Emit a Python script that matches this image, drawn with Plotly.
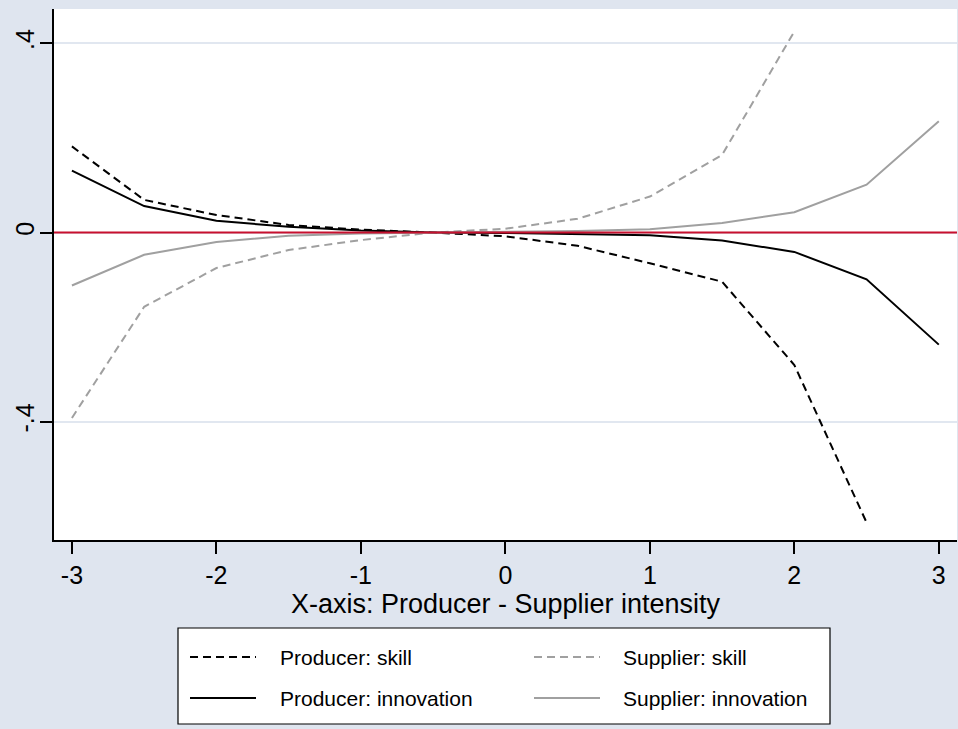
import plotly.graph_objects as go

# ---------------- data ----------------
x_vals = [-3, -2.5, -2, -1.5, -1, -0.5, 0, 0.5, 1, 1.5, 2, 2.5, 3]
producer_skill = [0.182, 0.069, 0.037, 0.016, 0.006, 0.0, -0.008, -0.028, -0.065, -0.104, -0.280, -0.613, None]
supplier_skill = [-0.392, -0.157, -0.075, -0.037, -0.016, 0.0, 0.008, 0.029, 0.076, 0.164, 0.425, None, None]
producer_innov = [0.131, 0.056, 0.025, 0.012, 0.004, 0.0, -0.001, -0.003, -0.006, -0.017, -0.041, -0.099, -0.237]
supplier_innov = [-0.112, -0.047, -0.020, -0.007, -0.002, 0.0, 0.001, 0.003, 0.007, 0.020, 0.043, 0.101, 0.235]

series_names = ["Producer: skill", "Supplier: skill", "Producer: innovation", "Supplier: innovation"]
x_ticks = [-3, -2, -1, 0, 1, 2, 3]
x_ticktext = ["-3", "-2", "-1", "0", "1", "2", "3"]
y_ticks = [-0.4, 0, 0.4]
y_ticktext = ["-.4", "0", ".4"]
x_title = "X-axis: Producer - Supplier intensity"

# ---------------- style ----------------
W, H = 958, 729
L, R, T, B = 54, 1, 9, 189
BG = "#dfe5ef"
GRID = "#e1e7f0"
RED = "#c8102e"
GRAY = "#a0a0a0"
FONT = "Liberation Sans"
DASH = "8px,5px"

styles = [
    dict(color="black", dash=DASH),
    dict(color=GRAY, dash=DASH),
    dict(color="black", dash="solid"),
    dict(color=GRAY, dash="solid"),
]
series = [producer_skill, supplier_skill, producer_innov, supplier_innov]

fig = go.Figure()
for name, ys, st in zip(series_names, series, styles):
    fig.add_trace(go.Scatter(
        x=x_vals, y=ys, mode="lines", name=name, showlegend=False,
        line=dict(color=st["color"], dash=st["dash"], width=2),
        connectgaps=False,
    ))

# reference line at zero
fig.add_hline(y=0, line=dict(color=RED, width=2), layer="above")

# ---------- custom legend (paper coords from pixel positions) ----------
pw = W - L - R
ph = H - T - B


def px(xp):
    return (xp - L) / pw


def py(yp):
    return (H - B - yp) / ph


fig.add_shape(type="rect", xref="paper", yref="paper",
              x0=px(178), x1=px(830), y0=py(628), y1=py(724),
              line=dict(color="black", width=1.2), fillcolor="white", layer="above")

leg_cols = [(190, 256, 278), (534, 600, 621)]
leg_rows = [657, 698]
for i, (name, st) in enumerate(zip(series_names, styles)):
    c = leg_cols[i % 2]
    r = leg_rows[i // 2]
    fig.add_shape(type="line", xref="paper", yref="paper",
                  x0=px(c[0]), x1=px(c[1]), y0=py(r), y1=py(r),
                  line=dict(color=st["color"], dash=st["dash"], width=2), layer="above")
    fig.add_annotation(xref="paper", yref="paper", x=px(c[2]), y=py(r),
                       text=name, showarrow=False, xanchor="left", yanchor="middle",
                       font=dict(family=FONT, size=21, color="black"))

fig.update_layout(
    width=W, height=H,
    margin=dict(l=L, r=R, t=T, b=B),
    paper_bgcolor=BG, plot_bgcolor="white",
    font=dict(family=FONT, color="black"),
    showlegend=False,
    xaxis=dict(
        range=[-3.124, 3.126], tickmode="array", tickvals=x_ticks, ticktext=x_ticktext,
        showgrid=False, zeroline=False, showline=True, linecolor="black", linewidth=1.5,
        ticks="outside", ticklen=12, tickwidth=1.5, tickcolor="black",
        tickfont=dict(family=FONT, size=25),
        title=dict(text=x_title, font=dict(family=FONT, size=27), standoff=0),
    ),
    yaxis=dict(
        range=[-0.650, 0.4725], tickmode="array", tickvals=y_ticks, ticktext=y_ticktext,
        showgrid=True, gridcolor=GRID, gridwidth=1.5, zeroline=False,
        showline=True, linecolor="black", linewidth=1.5,
        ticks="outside", ticklen=12, tickwidth=1.5, tickcolor="black",
        tickangle=-90, tickfont=dict(family=FONT, size=25),
        ticklabelstandoff=-4,
    ),
)

fig.write_html("out.html")
